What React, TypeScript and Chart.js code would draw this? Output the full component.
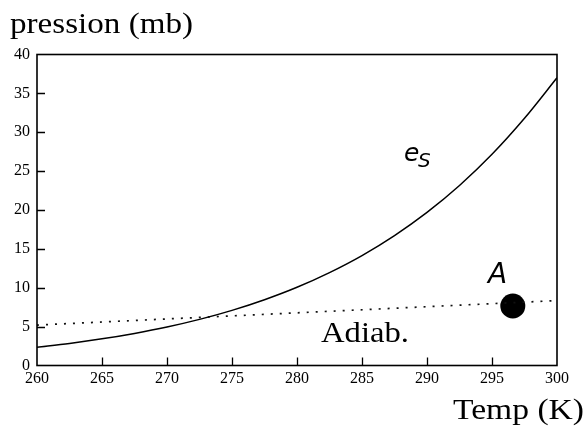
import React, { useEffect, useRef } from "react";
import { Chart, registerables } from "chart.js";

Chart.register(...registerables);

// Temperature (K) samples for the saturation vapour pressure curve
const tempK = [260, 262.5, 265, 267.5, 270, 272.5, 275, 277.5, 280, 282.5, 285, 287.5, 290, 292.5, 295, 297.5, 300];
// Saturation vapour pressure e_S (mb)
const esValues = [2.35, 2.84, 3.43, 4.13, 4.95, 5.93, 7.09, 8.46, 10.06, 11.95, 14.14, 16.71, 19.69, 23.15, 27.16, 31.79, 37.0];
// Adiabat (dotted line) end points
const adiabT = [260, 300];
const adiabP = [5.2, 8.35];
// Point A
const pointAT = [296.6];
const pointAP = [7.65];
// Axis ticks
const xTicks = [260, 265, 270, 275, 280, 285, 290, 295, 300];
const yTicks = [0, 5, 10, 15, 20, 25, 30, 35, 40];

const SERIF = '"Liberation Serif", "Times New Roman", serif';
const SANS = '"DejaVu Sans", sans-serif';

function drawStretched(
  ctx: CanvasRenderingContext2D,
  text: string,
  x: number,
  y: number,
  font: string,
  targetWidth: number
) {
  ctx.save();
  ctx.font = font;
  ctx.textAlign = "left";
  ctx.textBaseline = "alphabetic";
  const w = ctx.measureText(text).width;
  const s = targetWidth / w;
  ctx.translate(x, y);
  ctx.scale(s, 1);
  ctx.fillText(text, 0, 0);
  ctx.restore();
}

const decorPlugin = {
  id: "decor",
  afterDraw(chart: any) {
    const ctx: CanvasRenderingContext2D = chart.ctx;
    const { left, right, top, bottom } = chart.chartArea;
    const xs = chart.scales.x;
    const ys = chart.scales.y;
    ctx.save();
    ctx.strokeStyle = "#000";
    ctx.lineWidth = 1.6;
    ctx.strokeRect(left, top, right - left, bottom - top);
    ctx.lineWidth = 1.3;
    ctx.beginPath();
    yTicks.slice(1, -1).forEach((v) => {
      const py = Math.round(ys.getPixelForValue(v)) + 0.5;
      ctx.moveTo(left, py);
      ctx.lineTo(left + 8, py);
    });
    xTicks.slice(1, -1).forEach((v) => {
      const px = Math.round(xs.getPixelForValue(v)) + 0.5;
      ctx.moveTo(px, bottom);
      ctx.lineTo(px, bottom - 8);
    });
    ctx.stroke();

    ctx.fillStyle = "#000";
    drawStretched(ctx, "pression (mb)", 10, 33, `30px ${SERIF}`, 183);
    drawStretched(ctx, "Temp (K)", 453, 419, `30px ${SERIF}`, 131);
    drawStretched(ctx, "Adiab.", 321, 342, `30px ${SERIF}`, 88);

    ctx.font = `italic 25px ${SANS}`;
    ctx.textAlign = "left";
    ctx.textBaseline = "alphabetic";
    ctx.fillText("e", 404, 161);
    ctx.font = `italic 20px ${SANS}`;
    ctx.fillText("S", 418, 167);
    ctx.font = `italic 28px ${SANS}`;
    ctx.fillText("A", 488, 283);
    ctx.restore();
  },
};

export default function App() {
  const ref = useRef<HTMLCanvasElement>(null);

  useEffect(() => {
    if (!ref.current) return;
    const chart = new Chart(ref.current, {
      type: "scatter",
      data: {
        datasets: [
          {
            label: "es",
            data: tempK.map((t, i) => ({ x: t, y: esValues[i] })),
            showLine: true,
            borderColor: "#000",
            borderWidth: 1.5,
            pointRadius: 0,
            cubicInterpolationMode: "monotone",
          },
          {
            label: "adiab",
            data: adiabT.map((t, i) => ({ x: t, y: adiabP[i] })),
            showLine: true,
            borderColor: "#111",
            borderWidth: 1.7,
            borderDash: [2, 7],
            pointRadius: 0,
          },
          {
            label: "A",
            data: pointAT.map((t, i) => ({ x: t, y: pointAP[i] })),
            showLine: false,
            pointRadius: 12.5,
            backgroundColor: "#000",
            borderWidth: 0,
          },
        ],
      },
      options: {
        animation: false,
        responsive: false,
        devicePixelRatio: 1,
        layout: { padding: { left: 0, top: 54.5, right: 29, bottom: 0 } },
        plugins: { legend: { display: false }, tooltip: { enabled: false } },
        scales: {
          x: {
            type: "linear",
            min: 260,
            max: 300,
            afterFit: (s: any) => {
              s.height = 65.5;
            },
            afterBuildTicks: (s: any) => {
              s.ticks = xTicks.map((v) => ({ value: v }));
            },
            grid: { display: false, drawTicks: false },
            border: { display: false },
            ticks: {
              padding: 3.5,
              color: "#000",
              font: { family: SERIF, size: 16 },
              maxRotation: 0,
            },
          },
          y: {
            type: "linear",
            min: 0,
            max: 40,
            afterFit: (s: any) => {
              s.width = 37;
            },
            afterBuildTicks: (s: any) => {
              s.ticks = yTicks.map((v) => ({ value: v }));
            },
            grid: { display: false, drawTicks: false },
            border: { display: false },
            ticks: {
              padding: 7,
              color: "#000",
              font: { family: SERIF, size: 16 },
            },
          },
        },
      },
      plugins: [decorPlugin],
    } as any);
    return () => chart.destroy();
  }, []);

  return (
    <div style={{ position: "absolute", left: 0, top: 0, width: 586, height: 431, background: "#fff" }}>
      <canvas ref={ref} width={586} height={431} />
    </div>
  );
}
